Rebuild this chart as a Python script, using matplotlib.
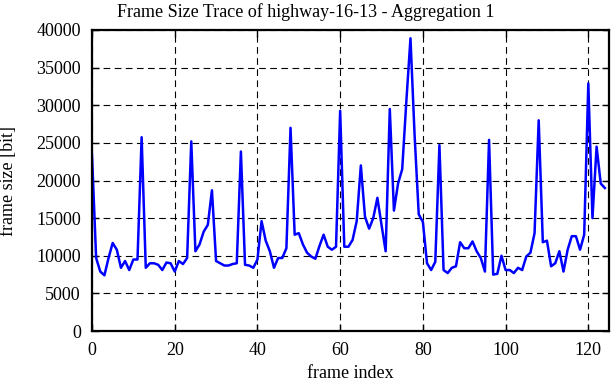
import numpy as np
import matplotlib
matplotlib.use("Agg")
import matplotlib.pyplot as plt

# frame sizes [bit] (frames 0..124)
frame_size = [
    23400, 9700, 7900, 7400, 9700, 11700, 10800, 8400, 9300, 8100,
    9500, 9500, 25750, 8400, 9000, 9000, 8800, 8100, 9100, 9000,
    7900, 9300, 8900, 9700, 25200, 10600, 11500, 13200, 14100, 18700,
    9300, 9000, 8700, 8700, 8900, 9000, 23850, 8800, 8700, 8400,
    9500, 14600, 12000, 10600, 8400, 9700, 9700, 11000, 27000, 12800,
    13000, 11500, 10400, 9900, 9600, 11300, 12800, 11200, 10800, 11200,
    29250, 11200, 11200, 12100, 14600, 22000, 15200, 13600, 15000, 17700,
    14100, 10600, 29500, 16000, 19600, 21500, 30500, 38900, 26000, 15500,
    14500, 9000, 8100, 9200, 24700, 8100, 7700, 8400, 8600, 11800,
    11000, 11000, 11900, 10600, 9700, 7900, 25400, 7500, 7600, 10000,
    8100, 8100, 7700, 8400, 8100, 9900, 10400, 13000, 28000, 11800,
    12000, 8600, 9000, 10600, 7900, 10800, 12600, 12600, 10800, 12800,
    32900, 15000, 24500, 19600, 19000,
]
frame_index = np.arange(len(frame_size))

xticks = [0, 20, 40, 60, 80, 100, 120]
yticks = [0, 5000, 10000, 15000, 20000, 25000, 30000, 35000, 40000]

plt.rcParams['font.family'] = ['Liberation Serif', 'DejaVu Serif']
plt.rcParams['font.size'] = 13

fig = plt.figure(figsize=(6.12, 3.82), dpi=100)
ax = fig.add_axes([92/612, 1 - 331/382, 517/612, 301/382])

ax.plot(frame_index, frame_size, color='#0000ff', lw=1.8)

ax.set_xlim(0, 125)
ax.set_ylim(0, 40000)
ax.set_xticks(xticks)
ax.set_yticks(yticks)
ax.grid(True, color='black', lw=0.8, linestyle=(0, (6, 4)))
ax.tick_params(direction='in', top=True, right=True, length=5, width=1,
               labelsize=13, pad=8)
for s in ax.spines.values():
    s.set_linewidth(1.6)

# title centred on the figure, not the axes
fig.text(0.5, 1 - 3/382, "Frame Size Trace of highway-16-13 - Aggregation 1",
         ha='center', va='top', fontsize=13)
ax.set_xlabel("frame index", labelpad=4)
ax.set_ylabel("frame size [bit]", labelpad=14)

fig.savefig("out.png", dpi=100)
